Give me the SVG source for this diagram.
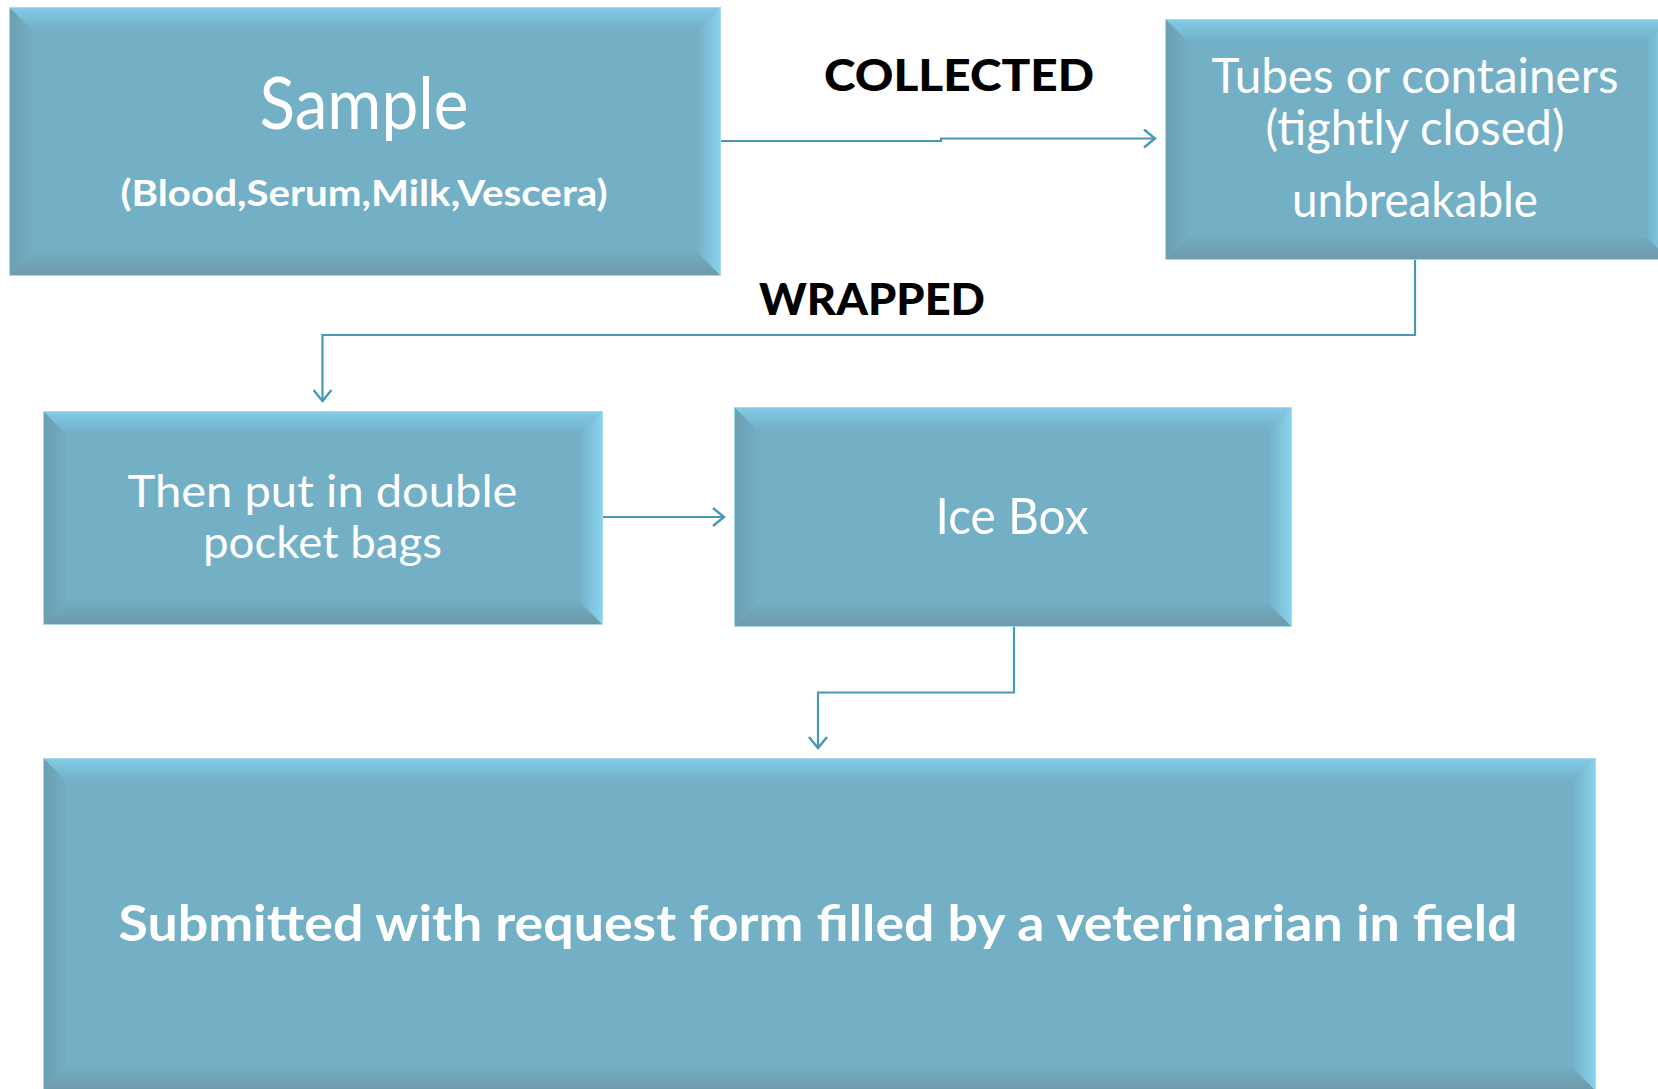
<svg xmlns="http://www.w3.org/2000/svg" width="1658" height="1089" viewBox="0 0 1658 1089">
<defs>
<style>
.face{fill:#73B0C6;stroke:#A9DAEC;stroke-width:2}
.bt{fill:url(#gTop)}
.bl{fill:url(#gLeft)}
.bb{fill:url(#gBot)}
.br{fill:url(#gRight)}
.t{font-family:"Lato","Open Sans","Liberation Sans",sans-serif;fill:#FFFFFF;text-anchor:middle}
.b{font-weight:bold}
.lbl{font-family:"Lato","Liberation Sans",sans-serif;font-weight:900;fill:#000000;text-anchor:middle}
.c{fill:none;stroke:#4A98B6;stroke-width:2.2}
</style>
<linearGradient id="gTop" x1="0" y1="0" x2="0" y2="1"><stop offset="0" stop-color="#82CAE6"/><stop offset="1" stop-color="#73B0C6"/></linearGradient>
<linearGradient id="gLeft" x1="0" y1="0" x2="1" y2="0"><stop offset="0" stop-color="#6C9FB2"/><stop offset="1" stop-color="#72ADC3"/></linearGradient>
<linearGradient id="gBot" x1="0" y1="0" x2="0" y2="1"><stop offset="0" stop-color="#72ACC1"/><stop offset="1" stop-color="#6C9AAA"/></linearGradient>
<linearGradient id="gRight" x1="0" y1="0" x2="1" y2="0"><stop offset="0" stop-color="#74B2C8"/><stop offset="1" stop-color="#88D3EE"/></linearGradient>
<marker id="arr" markerUnits="userSpaceOnUse" markerWidth="18" markerHeight="20" refX="13" refY="10" orient="auto" viewBox="0 0 18 20">
<path d="M2,1 L13,10 L2,19" fill="none" stroke="#4A98B6" stroke-width="2.4"/>
</marker>
</defs>
<rect width="1658" height="1089" fill="#FFFFFF"/>

<g id="connectors">
<path class="c" d="M720,141 H941 V138.5 H1155" marker-end="url(#arr)"/>
<path class="c" d="M1415,259 V335 H322.5 V401" marker-end="url(#arr)"/>
<path class="c" d="M602,517 H724" marker-end="url(#arr)"/>
<path class="c" d="M1014,626 V692.5 H818 V748" marker-end="url(#arr)"/>
</g>

<g id="lbl-collected"><text class="lbl" x="959" y="91" font-size="44" textLength="270" lengthAdjust="spacingAndGlyphs">COLLECTED</text></g>
<g id="lbl-wrapped"><text class="lbl" x="872" y="315" font-size="44" textLength="226" lengthAdjust="spacingAndGlyphs">WRAPPED</text></g>

<g id="node-sample">
<rect class="face" x="10" y="8" width="710" height="267"/>
<polygon class="bt" points="10,8 720,8 698,30 32,30"/>
<polygon class="bl" points="10,8 32,30 32,253 10,275"/>
<polygon class="bb" points="10,275 32,253 698,253 720,275"/>
<polygon class="br" points="720,8 720,275 698,253 698,30"/>
<text class="t" x="364" y="129" font-size="72" textLength="209" lengthAdjust="spacingAndGlyphs">Sample</text>
<text class="t b" x="364" y="206" font-size="36" textLength="487" lengthAdjust="spacingAndGlyphs">(Blood,Serum,Milk,Vescera)</text>
</g>

<g id="node-tubes">
<rect class="face" x="1166" y="20" width="503" height="239"/>
<polygon class="bt" points="1166,20 1669,20 1647,42 1188,42"/>
<polygon class="bl" points="1166,20 1188,42 1188,237 1166,259"/>
<polygon class="bb" points="1166,259 1188,237 1647,237 1669,259"/>
<polygon class="br" points="1669,20 1669,259 1647,237 1647,42"/>
<text class="t" x="1415" y="93" font-size="48" textLength="407" lengthAdjust="spacingAndGlyphs">Tubes or containers</text>
<text class="t" x="1415" y="145" font-size="48" textLength="299" lengthAdjust="spacingAndGlyphs">(tightly closed)</text>
<text class="t" x="1415" y="217" font-size="48" textLength="246" lengthAdjust="spacingAndGlyphs">unbreakable</text>
</g>

<g id="node-bags">
<rect class="face" x="44" y="412" width="558" height="212"/>
<polygon class="bt" points="44,412 602,412 580,434 66,434"/>
<polygon class="bl" points="44,412 66,434 66,602 44,624"/>
<polygon class="bb" points="44,624 66,602 580,602 602,624"/>
<polygon class="br" points="602,412 602,624 580,602 580,434"/>
<text class="t" x="322.5" y="507" font-size="44" textLength="390" lengthAdjust="spacingAndGlyphs">Then put in double</text>
<text class="t" x="322.5" y="558" font-size="44" textLength="239" lengthAdjust="spacingAndGlyphs">pocket bags</text>
</g>

<g id="node-icebox">
<rect class="face" x="735" y="408" width="556" height="218"/>
<polygon class="bt" points="735,408 1291,408 1269,430 757,430"/>
<polygon class="bl" points="735,408 757,430 757,604 735,626"/>
<polygon class="bb" points="735,626 757,604 1269,604 1291,626"/>
<polygon class="br" points="1291,408 1291,626 1269,604 1269,430"/>
<text class="t" x="1012" y="534" font-size="50" textLength="153" lengthAdjust="spacingAndGlyphs">Ice Box</text>
</g>

<g id="node-submitted">
<rect class="face" x="44" y="759" width="1551" height="331"/>
<polygon class="bt" points="44,759 1595,759 1573,781 66,781"/>
<polygon class="bl" points="44,759 66,781 66,1068 44,1090"/>
<polygon class="bb" points="44,1090 66,1068 1573,1068 1595,1090"/>
<polygon class="br" points="1595,759 1595,1090 1573,1068 1573,781"/>
<text class="t b" x="818" y="941" font-size="50" textLength="1399" lengthAdjust="spacingAndGlyphs">Submitted with request form filled by a veterinarian in field</text>
</g>
</svg>
